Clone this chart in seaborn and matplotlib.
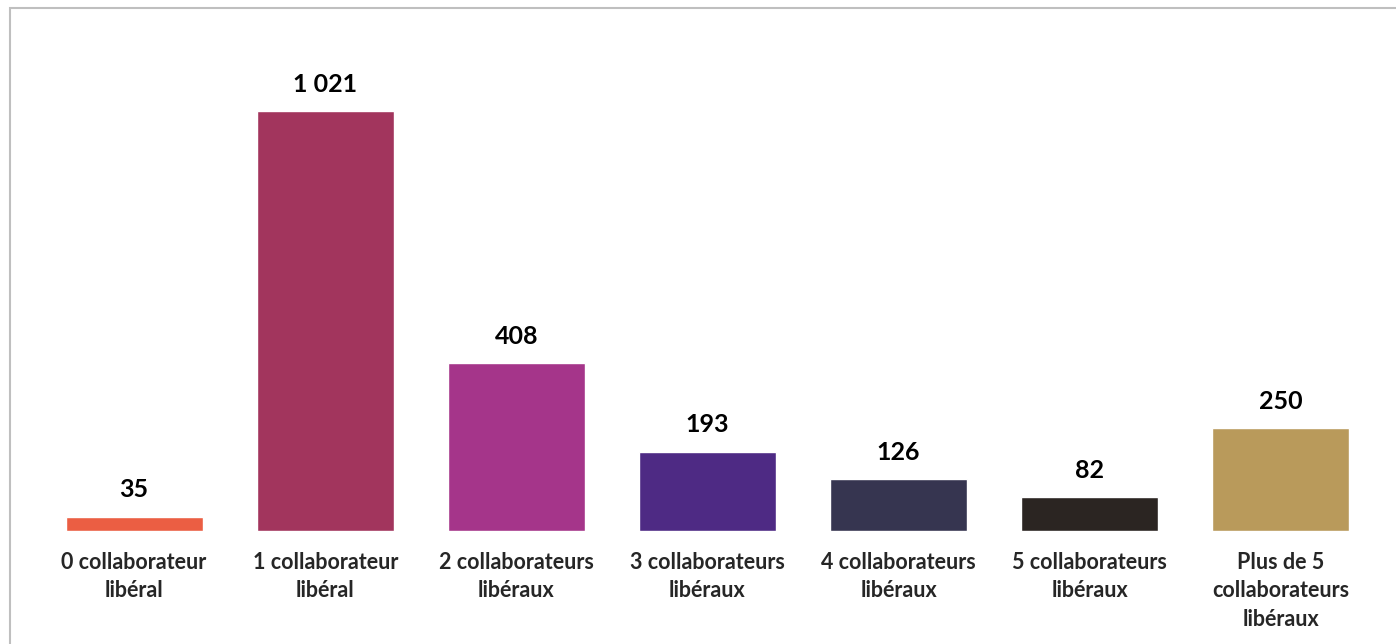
import matplotlib
matplotlib.use('Agg')
import matplotlib.pyplot as plt
import seaborn as sns
import pandas as pd

# données
categories = ['0 collaborateur\nlibéral', '1 collaborateur\nlibéral', '2 collaborateurs\nlibéraux',
              '3 collaborateurs\nlibéraux', '4 collaborateurs\nlibéraux', '5 collaborateurs\nlibéraux',
              'Plus de 5\ncollaborateurs\nlibéraux']
valeurs = [35, 1021, 408, 193, 126, 82, 250]
etiquettes = ['35', '1 021', '408', '193', '126', '82', '250']
couleurs = ['#EB5E43', '#A2355D', '#A5358A', '#4E2A84', '#363550', '#2B2522', '#B99A5B']

sns.set_style('white')
plt.rcParams['font.family'] = ['Lato', 'DejaVu Sans']

df = pd.DataFrame({'cat': categories, 'val': valeurs})

fig = plt.figure(figsize=(13.96, 6.44), dpi=100)
ax = fig.add_axes([38.5 / 1396, 1 - 531 / 644, 1338 / 1396, 473 / 644])

sns.barplot(data=df, x='cat', y='val', hue='cat', palette=couleurs, legend=False,
            width=0.717, saturation=1, ax=ax)

ax.set_ylim(0, 1150)
ax.set_xlim(-0.5, 6.5)
ax.set_yticks([])
ax.set_xlabel('')
ax.set_ylabel('')
sns.despine(ax=ax, left=True, bottom=True)
ax.tick_params(axis='x', length=0, pad=15)
for t in ax.get_xticklabels():
    t.set_fontsize(15.5)
    t.set_fontweight('bold')
    t.set_linespacing(1.45)
    t.set_verticalalignment('top')

# étiquettes de valeurs
for i, p in enumerate(ax.patches):
    ax.annotate(etiquettes[i], (p.get_x() + p.get_width() / 2, p.get_height()),
                xytext=(0, 11), textcoords='offset points', ha='center', va='bottom',
                fontsize=18, fontweight='bold', color='black')

# cadre
fig.add_artist(plt.Rectangle((10 / 1396, -0.1), 1.2, 1 - 8 / 644 + 0.1, transform=fig.transFigure,
                             fill=False, edgecolor='#BFBFBF', linewidth=1.5))

fig.savefig('out.png', dpi=100)
